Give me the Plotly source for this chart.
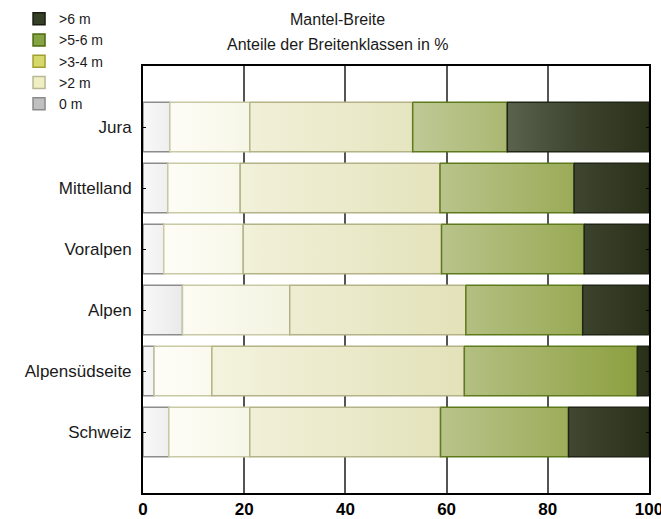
import plotly.graph_objects as go

# ---- data (percent shares per width class) ----
regions = ["Jura", "Mittelland", "Voralpen", "Alpen", "Alpensüdseite", "Schweiz"]
classes = ["0 m", ">2 m", ">3-4 m", ">5-6 m", ">6 m"]
share_0m = [5.3, 4.9, 4.1, 7.8, 2.2, 5.1]
share_2m = [15.8, 14.3, 15.7, 21.2, 11.4, 16.0]
share_34m = [32.2, 39.5, 39.2, 34.8, 49.9, 37.7]
share_56m = [18.7, 26.5, 28.2, 23.1, 34.2, 25.3]
share_6m = [28.0, 14.8, 12.8, 13.1, 2.3, 15.9]
x_ticks = [0, 20, 40, 60, 80, 100]

series = [share_0m, share_2m, share_34m, share_56m, share_6m]

# ---- styles ----
grad = {
    "0 m": dict(start=0, stop=8, colorscale=[[0, "#f8f8f8"], [1, "#e9e9e9"]]),
    ">2 m": dict(start=2, stop=30, colorscale=[[0, "#fefef8"], [1, "#f3f3e0"]]),
    ">3-4 m": dict(start=13, stop=65, colorscale=[[0, "#f4f3de"], [1, "#e2e1b8"]]),
    ">5-6 m": dict(start=50, stop=100, colorscale=[[0, "#c3cc9c"], [1, "#8a9e3c"]]),
    ">6 m": dict(start=70, stop=100, colorscale=[[0, "#5e6752"], [0.5, "#3f4631"], [1, "#2a3018"]]),
}
edge = {"0 m": "#8c8c8c", ">2 m": "#c9c9a6", ">3-4 m": "#b3b387", ">5-6 m": "#5f7a1c", ">6 m": "#1f2415"}
legend_fill = {"0 m": "#c0c0c0", ">2 m": "#efefc2", ">3-4 m": "#d6d86c", ">5-6 m": "#83a345", ">6 m": "#364026"}
legend_edge = {"0 m": "#8a8a8a", ">2 m": "#b8b898", ">3-4 m": "#a0a030", ">5-6 m": "#4d6b0f", ">6 m": "#1c1c10"}
half = 0.405

fig = go.Figure()

cum = [0.0] * len(regions)
for cls, vals in zip(classes, series):
    for i, v in enumerate(vals):
        x0 = cum[i]
        x1 = cum[i] + v
        fig.add_trace(go.Scatter(
            x=[x0, x1, x1, x0, x0],
            y=[i - half, i - half, i + half, i + half, i - half],
            mode="lines",
            fill="toself",
            fillgradient=dict(type="horizontal", **grad[cls]),
            line=dict(color=edge[cls], width=1.5),
            showlegend=False,
            name=cls,
            hoverinfo="text",
            text=f"{regions[i]}: {cls} {v:.1f}%",
        ))
        cum[i] = x1

# legend entries (top to bottom: >6 m ... 0 m)
for cls in reversed(classes):
    fig.add_trace(go.Bar(
        x=[None], y=[None], orientation="h", name=cls,
        marker=dict(color=legend_fill[cls], line=dict(color=legend_edge[cls], width=1.5)),
    ))

fig.update_layout(
    width=661, height=519,
    margin=dict(l=143, r=12, t=66, b=26, autoexpand=False),
    paper_bgcolor="white", plot_bgcolor="white",
    font=dict(family="Liberation Sans, Arial, sans-serif", color="#1a1a1a"),
    showlegend=True,
    legend=dict(
        x=-0.245, xanchor="left", y=1.147, yanchor="top",
        font=dict(size=14, color="#1a1a1a"),
        bgcolor="rgba(0,0,0,0)", traceorder="normal",
        itemclick=False, itemdoubleclick=False,
    ),
    annotations=[
        dict(text="Mantel-Breite", xref="paper", yref="paper", x=0.384, y=1.109,
             showarrow=False, font=dict(size=16, color="#1a1a1a"), xanchor="center", yanchor="middle"),
        dict(text="Anteile der Breitenklassen in %", xref="paper", yref="paper", x=0.384, y=1.051,
             showarrow=False, font=dict(size=16, color="#1a1a1a"), xanchor="center", yanchor="middle"),
    ],
)

fig.update_xaxes(
    range=[0, 100], tickvals=x_ticks, ticktext=[str(t) for t in x_ticks],
    showgrid=True, gridcolor="#555555", gridwidth=1.5,
    showline=True, linecolor="black", linewidth=2, mirror=True,
    ticks="", zeroline=False, ticklabeloverflow="allow",
    tickfont=dict(size=17, family="Liberation Sans, Arial, sans-serif", color="black", weight="bold"),
)
fig.update_yaxes(
    range=[len(regions), -1], tickvals=list(range(len(regions))), ticktext=regions,
    showgrid=False, zeroline=False,
    showline=True, linecolor="black", linewidth=2, mirror="ticks",
    ticks="inside", ticklen=3, tickcolor="black",
    ticklabelstandoff=6,
    tickfont=dict(size=17, color="#1a1a1a"),
)

fig.write_html("out.html", config={"displayModeBar": False},
               post_script="document.body.style.margin='0px';")
